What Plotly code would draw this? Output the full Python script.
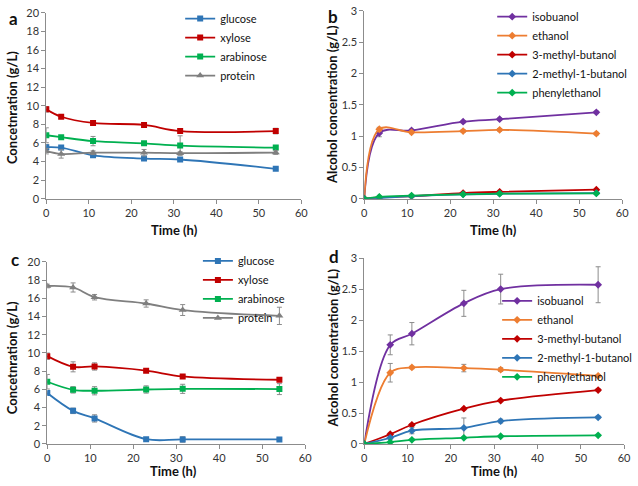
import plotly.graph_objects as go

# ---------------- data ----------------
time_a = [0, 3.5, 11, 23, 31.5, 54]
glucose_a = [5.55, 5.5, 4.67, 4.32, 4.22, 3.22]
xylose_a = [9.62, 8.82, 8.15, 7.94, 7.28, 7.28]
arabinose_a = [6.83, 6.62, 6.2, 5.96, 5.72, 5.5]
protein_a = [5.12, 4.82, 4.95, 4.95, 4.9, 4.97]
glucose_a_err = [0.3, 0.15, 0.15, 0.15, 0.15, 0.1]
xylose_a_err = [0.3, 0.15, 0.15, 0.15, 0.1, 0.3]
arabinose_a_err = [0.8, 0.15, 0.5, 0.15, 1.05, 0.15]
protein_a_err = [0.3, 0.45, 0.2, 0.35, 0.15, 0.2]

time_b = [0, 3.5, 11, 23, 31.5, 54]
isobuanol_b = [0, 1.05, 1.09, 1.23, 1.27, 1.38]
ethanol_b = [0, 1.11, 1.06, 1.08, 1.1, 1.04]
methylbutanol3_b = [0, 0.02, 0.04, 0.09, 0.11, 0.145]
methylbutanol2_b = [0, 0.01, 0.04, 0.07, 0.08, 0.09]
phenylethanol_b = [0, 0.03, 0.05, 0.07, 0.08, 0.085]
isobuanol_b_err = [0, 0.06, 0.02, 0.02, 0.02, 0.02]
ethanol_b_err = [0, 0.03, 0.02, 0.02, 0.02, 0.02]

time_c = [0, 6, 11, 23, 31.5, 54]
glucose_c = [5.6, 3.64, 2.81, 0.53, 0.5, 0.5]
xylose_c = [9.65, 8.48, 8.52, 8.06, 7.42, 7.06]
arabinose_c = [6.84, 5.95, 5.85, 5.99, 6.06, 6.03]
protein_c = [17.36, 17.2, 16.13, 15.44, 14.72, 14.08]
glucose_c_err = [0.15, 0.3, 0.4, 0.1, 0.3, 0.1]
xylose_c_err = [0.35, 0.55, 0.4, 0.15, 0.15, 0.1]
arabinose_c_err = [0.8, 0.35, 0.45, 0.4, 0.5, 0.6]
protein_c_err = [0.2, 0.5, 0.3, 0.4, 0.6, 0.95]

time_d = [0, 6, 11, 23, 31.5, 54]
isobuanol_d = [0, 1.6, 1.78, 2.27, 2.5, 2.57]
ethanol_d = [0, 1.15, 1.235, 1.225, 1.2, 1.1]
methylbutanol3_d = [0, 0.157, 0.31, 0.57, 0.7, 0.87]
methylbutanol2_d = [0, 0.1, 0.215, 0.26, 0.37, 0.43]
phenylethanol_d = [0, 0.03, 0.068, 0.1, 0.125, 0.14]
isobuanol_d_err = [0, 0.16, 0.18, 0.21, 0.24, 0.29]
ethanol_d_err = [0, 0.15, 0.02, 0.06, 0.03, 0.02]
methylbutanol3_d_err = [0, 0.02, 0.02, 0.02, 0.02, 0.02]
methylbutanol2_d_err = [0, 0.02, 0.05, 0.16, 0.03, 0.02]
phenylethanol_d_err = [0, 0.01, 0.01, 0.01, 0.01, 0.01]

x_ticks = [0, 10, 20, 30, 40, 50, 60]
sugar_ticks = [0, 2, 4, 6, 8, 10, 12, 14, 16, 18, 20]
alcohol_ticks = [0, 0.5, 1, 1.5, 2, 2.5, 3]

# ---------------- style ----------------
FONT = "Lato, 'Open Sans', sans-serif"
C_BLUE = "#2E75B6"
C_RED = "#C00000"
C_GREEN = "#00B050"
C_GREY = "#7F7F7F"
C_PURPLE = "#7030A0"
C_ORANGE = "#ED7D31"
ERR_COLOR = "#8C8C8C"

fig = go.Figure()


def add(x, y, err, name, color, symbol, xa, ya, legend, size=6):
    fig.add_trace(go.Scatter(
        x=x, y=y, name=name, mode="lines+markers",
        line=dict(color=color, width=1.8, shape="spline", smoothing=1.0),
        marker=dict(color=color, symbol=symbol, size=size),
        error_y=dict(type="data", array=err, visible=err is not None,
                     color=ERR_COLOR, thickness=1, width=2.5),
        xaxis=xa, yaxis=ya, legend=legend,
    ))


# panel a
add(time_a, glucose_a, glucose_a_err, "glucose", C_BLUE, "square", "x", "y", "legend")
add(time_a, xylose_a, xylose_a_err, "xylose", C_RED, "square", "x", "y", "legend")
add(time_a, arabinose_a, arabinose_a_err, "arabinose", C_GREEN, "square", "x", "y", "legend")
add(time_a, protein_a, protein_a_err, "protein", C_GREY, "triangle-up", "x", "y", "legend", 7)
# panel b
add(time_b, isobuanol_b, isobuanol_b_err, "isobuanol", C_PURPLE, "diamond", "x2", "y2", "legend2")
add(time_b, ethanol_b, ethanol_b_err, "ethanol", C_ORANGE, "diamond", "x2", "y2", "legend2")
add(time_b, methylbutanol3_b, None, "3-methyl-butanol", C_RED, "diamond", "x2", "y2", "legend2")
add(time_b, methylbutanol2_b, None, "2-methyl-1-butanol", C_BLUE, "diamond", "x2", "y2", "legend2")
add(time_b, phenylethanol_b, None, "phenylethanol", C_GREEN, "diamond", "x2", "y2", "legend2")
# panel c
add(time_c, glucose_c, glucose_c_err, "glucose", C_BLUE, "square", "x3", "y3", "legend3")
add(time_c, xylose_c, xylose_c_err, "xylose", C_RED, "square", "x3", "y3", "legend3")
add(time_c, arabinose_c, arabinose_c_err, "arabinose", C_GREEN, "square", "x3", "y3", "legend3")
add(time_c, protein_c, protein_c_err, "protein", C_GREY, "triangle-up", "x3", "y3", "legend3", 7)
# panel d
add(time_d, isobuanol_d, isobuanol_d_err, "isobuanol", C_PURPLE, "diamond", "x4", "y4", "legend4")
add(time_d, ethanol_d, ethanol_d_err, "ethanol", C_ORANGE, "diamond", "x4", "y4", "legend4")
add(time_d, methylbutanol3_d, methylbutanol3_d_err, "3-methyl-butanol", C_RED, "diamond", "x4", "y4", "legend4")
add(time_d, methylbutanol2_d, methylbutanol2_d_err, "2-methyl-1-butanol", C_BLUE, "diamond", "x4", "y4", "legend4")
add(time_d, phenylethanol_d, phenylethanol_d_err, "phenylethanol", C_GREEN, "diamond", "x4", "y4", "legend4")

W, H = 638, 486


def xdom(l, r):
    return [l / W, r / W]


def ydom(top, bottom):
    return [1 - bottom / H, 1 - top / H]


axis_common = dict(
    showline=True, linecolor="#8C8C8C", linewidth=1, ticks="outside",
    ticklen=4, tickcolor="#8C8C8C", showgrid=False, zeroline=False,
    tickfont=dict(family=FONT, size=11, color="#333"),
)

layout = dict(
    width=W, height=H, margin=dict(l=0, r=0, t=0, b=0),
    paper_bgcolor="white", plot_bgcolor="white",
    font=dict(family=FONT, color="#111"),
    xaxis=dict(domain=xdom(44, 303), anchor="y", range=[0, 60], tickvals=x_ticks, **axis_common),
    yaxis=dict(domain=ydom(6, 197), anchor="x", range=[0, 20], tickvals=sugar_ticks, **axis_common),
    xaxis2=dict(domain=xdom(367, 629), anchor="y2", range=[0, 60], tickvals=x_ticks, **axis_common),
    yaxis2=dict(domain=ydom(4, 197), anchor="x2", range=[0, 3], tickvals=alcohol_ticks, **axis_common),
    xaxis3=dict(domain=xdom(45, 307), anchor="y3", range=[0, 60], tickvals=x_ticks, **axis_common),
    yaxis3=dict(domain=ydom(262, 449), anchor="x3", range=[0, 20], tickvals=sugar_ticks, **axis_common),
    xaxis4=dict(domain=xdom(367, 631), anchor="y4", range=[0, 60], tickvals=x_ticks, **axis_common),
    yaxis4=dict(domain=ydom(258, 449), anchor="x4", range=[0, 3], tickvals=alcohol_ticks, **axis_common),
)

leg_common = dict(bgcolor="rgba(0,0,0,0)", font=dict(family=FONT, size=11, color="#111"),
                  xanchor="left", yanchor="top", tracegroupgap=0, itemwidth=30)
layout["legend"] = dict(x=180 / W, y=1 + 3 / H, **leg_common)
layout["legend2"] = dict(x=497 / W, y=1 + 5 / H, **leg_common)
layout["legend3"] = dict(x=198 / W, y=1 - 246 / H, **leg_common)
layout["legend4"] = dict(x=502 / W, y=1 - 287 / H, **leg_common)
fig.update_layout(**layout)

ann = []
for txt, x, y in [("a", 11, 12), ("b", 335, 10), ("c", 12, 259), ("d", 336, 256)]:
    ann.append(dict(text=f"<b>{txt}</b>", x=x / W, y=1 - y / H, xref="paper", yref="paper",
                    xanchor="center", yanchor="middle",
                    showarrow=False, font=dict(family=FONT, size=17, color="#111")))
for x, y in [(174, 229), (498, 229), (173, 477), (499, 477)]:
    ann.append(dict(text="<b>Time (h)</b>", x=x / W, y=1 - y / H, xref="paper", yref="paper",
                    xanchor="center", yanchor="middle",
                    showarrow=False, font=dict(family=FONT, size=13, color="#111")))
for txt, x, y in [("Concetnration (g/L)", 9, 103), ("Alcohol concentration (g/L)", 335, 100),
                  ("Concetnration (g/L)", 10, 360), ("Alcohol concentration (g/L)", 335, 350)]:
    ann.append(dict(text=f"<b>{txt}</b>", x=x / W, y=1 - y / H, xref="paper", yref="paper",
                    xanchor="center", yanchor="middle",
                    showarrow=False, textangle=-90, font=dict(family=FONT, size=13, color="#111")))
fig.update_layout(annotations=ann)

fig.write_html("out.html", config={"displayModeBar": False},
               post_script="document.body.style.margin='0px';")
